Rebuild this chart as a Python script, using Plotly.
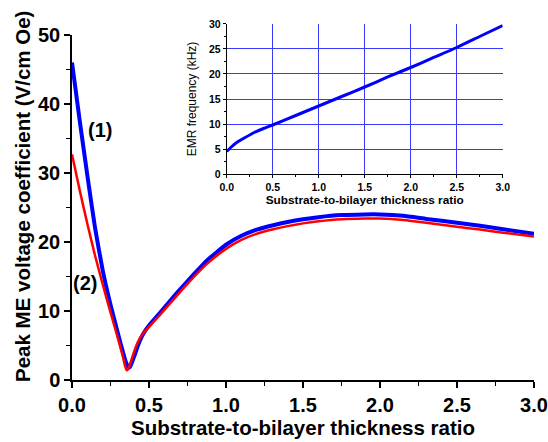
import plotly.graph_objects as go

# Main chart data: curve (1) blue
x1 = [0.00, 0.05, 0.10, 0.15, 0.20, 0.25, 0.30, 0.34, 0.355, 0.366, 0.377, 0.39, 0.41, 0.43, 0.46, 0.50,
      0.57, 0.68, 0.79, 0.88, 1.00, 1.10, 1.20, 1.30, 1.40, 1.50, 1.60, 1.75, 1.90, 2.00,
      2.15, 2.30, 2.50, 2.65, 2.80, 3.00]
y1 = [46.0, 37.6, 29.6, 22.0, 15.8, 10.9, 6.6, 3.3, 2.3, 1.8, 1.9, 2.6, 3.8, 5.1, 6.6, 7.9,
      9.7, 12.6, 15.3, 17.4, 19.6, 20.9, 21.8, 22.4, 22.9, 23.3, 23.6, 23.9, 24.0, 24.0,
      23.8, 23.35, 22.8, 22.35, 21.85, 21.2]

# curve (2) red
x2 = [0.00, 0.05, 0.10, 0.15, 0.20, 0.25, 0.30, 0.33, 0.345, 0.355, 0.365, 0.38, 0.40, 0.43, 0.46, 0.50,
      0.57, 0.68, 0.79, 0.88, 1.00, 1.10, 1.20, 1.30, 1.40, 1.50, 1.60, 1.75, 1.90, 2.00,
      2.15, 2.30, 2.50, 2.65, 2.80, 3.00]
y2 = [32.7, 27.5, 22.6, 18.0, 13.8, 9.8, 5.9, 3.4, 2.0, 1.4, 1.6, 2.5, 3.9, 5.6, 6.7, 7.7,
      9.4, 12.2, 14.9, 16.9, 19.0, 20.3, 21.2, 21.8, 22.3, 22.7, 23.0, 23.3, 23.4, 23.4,
      23.2, 22.8, 22.2, 21.8, 21.35, 20.8]

# Inset data (EMR frequency, kHz)
xi = [0.0, 0.05, 0.1, 0.2, 0.3, 0.4, 0.5, 0.75, 1.0, 1.25, 1.5, 1.75, 2.0, 2.25, 2.5, 2.75, 3.0]
yi = [4.5, 5.4, 6.2, 7.3, 8.3, 9.1, 9.8, 11.7, 13.6, 15.5, 17.4, 19.4, 21.3, 23.3, 25.3, 27.5, 29.7]

# Inset grid positions (interior major ticks)
grid_x = [0.5, 1.0, 1.5, 2.0, 2.5]
grid_y = [5, 10, 15, 20, 25]

FONT = "Liberation Sans, Arial, sans-serif"
IX = [0.3349, 0.9322]
IY = [0.5722, 0.9889]

fig = go.Figure()
fig.add_trace(go.Scatter(x=x1, y=y1, mode="lines", line=dict(color="#0000ff", width=4, shape="spline", smoothing=0.4),
                         xaxis="x", yaxis="y", showlegend=False))
fig.add_trace(go.Scatter(x=x2, y=y2, mode="lines", line=dict(color="#ff0000", width=2.5, shape="spline", smoothing=0.4),
                         xaxis="x", yaxis="y", showlegend=False))
# base inset subplot carries only the grid
fig.add_trace(go.Scatter(x=[None], y=[None], mode="lines", xaxis="x2", yaxis="y2", showlegend=False))
# overlay inset subplot carries the curve, axis lines, ticks and labels
fig.add_trace(go.Scatter(x=xi, y=yi, mode="lines", line=dict(color="#0000ff", width=3, shape="spline", smoothing=0.6),
                         xaxis="x3", yaxis="y3", showlegend=False))

tick_main = dict(size=20, family=FONT, weight="bold")
tick_in = dict(size=10.5, family=FONT, weight="bold")

pl_w = 548 - 72 - 14
pl_h = 442 - 20 - 62

fig.update_layout(
    width=548, height=442,
    margin=dict(l=72, r=14, t=20, b=62),
    paper_bgcolor="white", plot_bgcolor="rgba(0,0,0,0)",
    font=dict(family=FONT, color="black"),
    xaxis=dict(domain=[0, 1], range=[0, 3], dtick=0.5, tick0=0, tickformat=".1f", automargin=False,
               showline=True, linecolor="black", linewidth=1.5, showgrid=False, zeroline=False,
               ticks="outside", ticklen=6, tickwidth=1.5, tickcolor="black",
               minor=dict(dtick=0.25, ticks="outside", ticklen=4, tickwidth=1.2, tickcolor="black", showgrid=False),
               tickfont=tick_main,
               title=dict(text="<b>Substrate-to-bilayer thickness ratio</b>", font=dict(size=20.5, family=FONT), standoff=0)),
    yaxis=dict(domain=[0, 0.9583], range=[0, 50], dtick=10, tick0=0, automargin=False,
               showline=True, linecolor="black", linewidth=1.5, showgrid=False, zeroline=False,
               ticks="outside", ticklen=6, tickwidth=1.5, tickcolor="black",
               minor=dict(dtick=5, ticks="outside", ticklen=4, tickwidth=1.2, tickcolor="black", showgrid=False),
               tickfont=tick_main),
    xaxis2=dict(domain=IX, anchor="y2", range=[0, 3], tickvals=grid_x, automargin=False,
                showline=False, zeroline=False, showticklabels=False, ticks="",
                showgrid=True, gridcolor="#3a3aff", gridwidth=1.2),
    yaxis2=dict(domain=IY, anchor="x2", range=[0, 30], tickvals=grid_y, automargin=False,
                showline=False, zeroline=False, showticklabels=False, ticks="",
                showgrid=True, gridcolor="#3a3aff", gridwidth=1.2),
    xaxis3=dict(domain=IX, anchor="y3", overlaying="x2", range=[0, 3], dtick=0.5, tick0=0, tickformat=".1f",
                automargin=False, showline=True, linecolor="black", linewidth=1, zeroline=False, showgrid=False,
                ticks="outside", ticklen=3, tickwidth=1, tickcolor="black",
                minor=dict(dtick=0.25, ticks="outside", ticklen=2, tickwidth=1, tickcolor="black", showgrid=False),
                tickfont=tick_in,
                title=dict(text="<b>Substrate-to-bilayer thickness ratio</b>", font=dict(size=11.8, family=FONT), standoff=3)),
    yaxis3=dict(domain=IY, anchor="x3", overlaying="y2", range=[0, 30], dtick=5, tick0=0,
                automargin=False, showline=True, linecolor="black", linewidth=1, zeroline=False, showgrid=False,
                ticks="outside", ticklen=3, tickwidth=1, tickcolor="black",
                minor=dict(dtick=2.5, ticks="outside", ticklen=2, tickwidth=1, tickcolor="black", showgrid=False),
                tickfont=tick_in,
                title=dict(text="EMR frequency (kHz)", font=dict(size=12, family=FONT), standoff=9)),
    annotations=[
        dict(x=(22 - 72) / pl_w, y=(442 - 62 - 197) / pl_h, xref="paper", yref="paper",
             xanchor="center", yanchor="middle",
             text="<b>Peak ME voltage coefficient (V/cm Oe)</b>",
             textangle=-90, showarrow=False, font=dict(size=20.5, family=FONT)),
        dict(x=0.185, y=36.3, xref="x", yref="y", text="<b>(1)</b>", showarrow=False,
             font=dict(size=20, family=FONT)),
        dict(x=0.085, y=14.1, xref="x", yref="y", text="<b>(2)</b>", showarrow=False,
             font=dict(size=20, family=FONT)),
    ],
)

fig.write_html("out.html", config={"displayModeBar": False},
               post_script="document.body.style.margin='0px';")
